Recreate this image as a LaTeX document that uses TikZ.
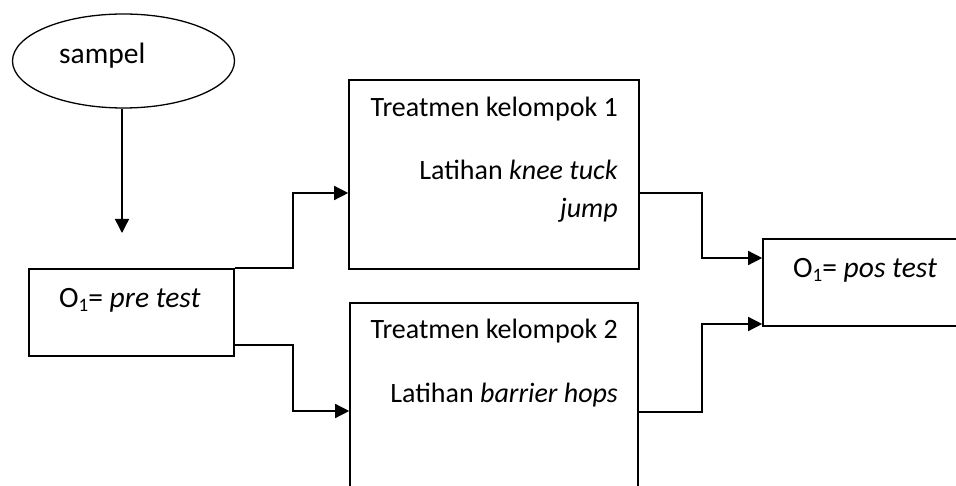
\documentclass[tikz,border=0pt]{standalone}
\usepackage{fontspec}
\setmainfont{Carlito}
\usetikzlibrary{arrows.meta,shapes.geometric}
\newcommand{\subone}{\raisebox{-0.12em}{\fontsize{19}{19}\selectfont 1}}
\begin{document}
\begin{tikzpicture}[x=1pt,y=-1pt,
  box/.style={draw, line width=1.6pt, inner sep=0pt},
  oval/.style={draw, ellipse, line width=1.3pt, inner sep=0pt},
  lbl/.style={inner sep=0pt, font=\fontsize{28}{33}\selectfont},
  biglbl/.style={inner sep=0pt, font=\fontsize{29.5}{35}\selectfont},
  arr/.style={line width=1.4pt, -{Triangle[length=14pt,width=14pt]}}]
\useasboundingbox (0,0) rectangle (956,486);
\clip (0,0) rectangle (956,486);

% shapes
\node[oval, minimum width=222pt, minimum height=94pt] (sampel) at (123.5,61) {};
\node[box, minimum width=205pt, minimum height=87pt] (pre) at (131.5,312.5) {};
\node[box, minimum width=290pt, minimum height=189pt] (box1) at (494,174.5) {};
\node[box, minimum width=288pt, minimum height=257pt] (box2) at (494,431.5) {};
\node[box, minimum width=237pt, minimum height=87pt] (pos) at (881.5,282.5) {};
\coordinate (drop) at (122,233);

% labels
\node[biglbl, anchor=base west] (tsampel) at (59,64) {sampel};
\node[biglbl, anchor=base west] (tpre) at (59,308) {O\subone= \textit{pre test}};
\node[lbl, anchor=base east] (t1a) at (618,117) {Treatmen kelompok 1};
\node[lbl, anchor=base east] (t1b) at (618,180) {Latihan \textit{knee tuck}};
\node[lbl, anchor=base east] (t1c) at (618,218) {\textit{jump}};
\node[lbl, anchor=base east] (t2a) at (618,338) {Treatmen kelompok 2};
\node[lbl, anchor=base east] (t2b) at (618,402) {Latihan \textit{barrier hops}};
\node[biglbl, anchor=base west] (tpos) at (793,278) {O\subone= \textit{pos test}};

% connectors
\draw[arr] (sampel.south -| drop) -- (drop);
\draw[arr] (pre.north east) -- ++(58,0) |- (box1.west |- 0,193);
\draw[arr] (pre.east |- 0,345) -- ++(58,0) |- (box2.west |- 0,411);
\draw[arr] (box1.east |- 0,193) -- ++(62,0) |- (pos.west |- 0,258);
\draw[arr] (box2.east |- 0,412) -- ++(63,0) |- (pos.west |- 0,324);
\end{tikzpicture}
\end{document}
